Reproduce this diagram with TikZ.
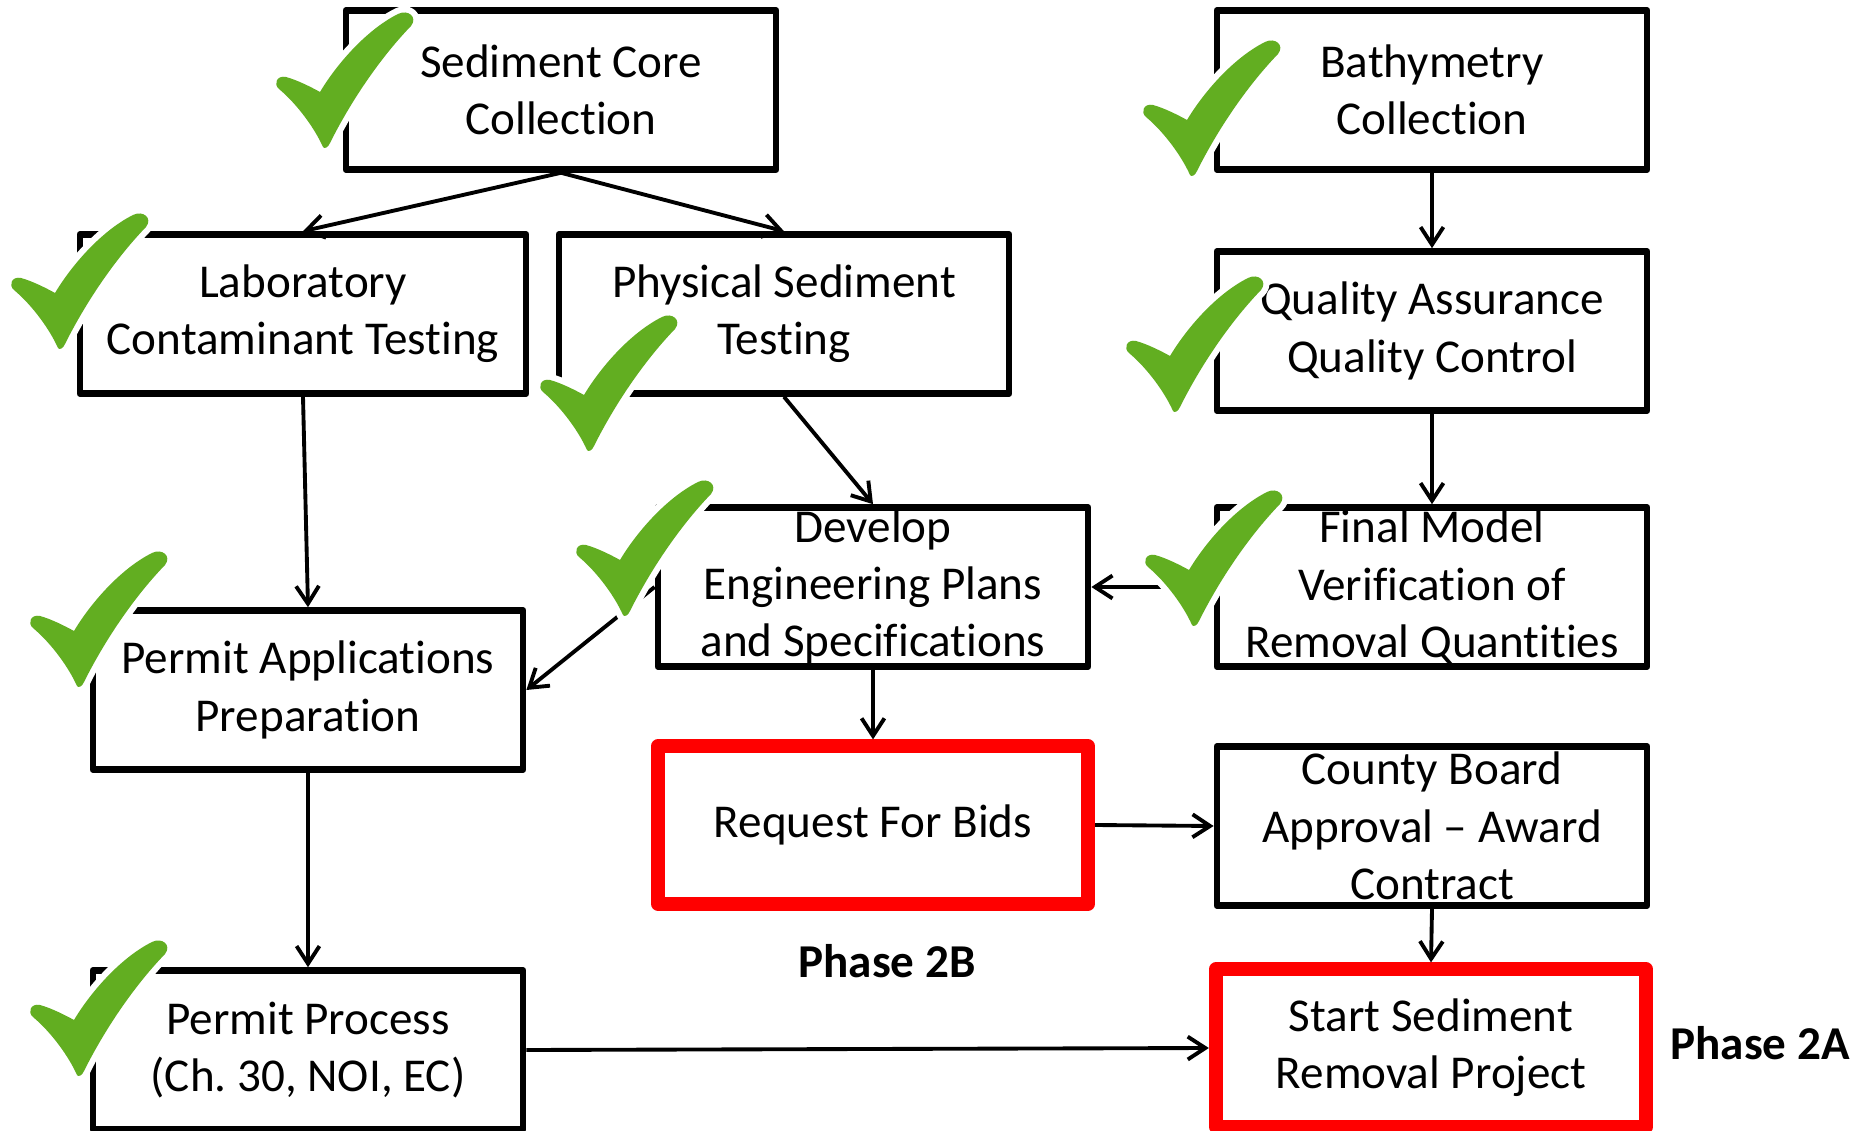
\documentclass[tikz,border=0pt]{standalone}
\usepackage{fontspec}
\setmainfont{Carlito}[Ligatures={TeX,NoCommon}]
\frenchspacing
\usepackage{tikz}
\usetikzlibrary{arrows.meta}
\definecolor{ink}{HTML}{000000}
\definecolor{alert}{HTML}{FF0000}
\definecolor{tickgreen}{HTML}{62AE21}
\tikzset{
  box/.style={draw=ink, line width=1.85pt, line join=round, fill=white, align=center, inner sep=0pt,
    minimum width=4.3cm, minimum height=1.59cm, font=\fontsize{13.4}{16.3}\selectfont},
  redbox/.style={box, draw=alert, line width=4pt, minimum height=1.57cm},
  link/.style={draw=ink, line width=1.1pt, -{Straight Barb[length=5pt,width=6.5pt]}},
  phase/.style={anchor=base, font=\fontsize{13.4}{16.3}\selectfont\bfseries},
  tick/.pic={
    \path[fill=tickgreen, preaction={draw=white, line width=3.5pt, line join=round}]
      (0,0) .. controls (-8,-18) and (-25,-42) .. (-44,-58)
      .. controls (-50,-63) and (-46,-72) .. (-37,-70)
      .. controls (-26,-67) and (-12,-60) .. (-3,-55)
      .. controls (15,-85) and (45,-118) .. (75,-133)
      .. controls (85,-138) and (95,-130) .. (88,-121)
      .. controls (60,-92) and (30,-50) .. (7,-4)
      .. controls (5,1) and (1,2) .. cycle;
  },
}

\begin{document}
\begin{tikzpicture}[x=0.01cm, y=-0.01cm]
  \useasboundingbox (0,0) rectangle (1870,1131);
  % boxes
  \node[box] (sed) at (561,90) {Sediment Core\\Collection};
  \node[box] (bathy) at (1432,90) {Bathymetry\\Collection};
  \node[box, minimum width=4.46cm] (lab) at (303,314) {Laboratory\\Contaminant Testing};
  \node[box, minimum width=4.5cm] (phys) at (784,314) {Physical Sediment\\Testing};
  \node[box] (qa) at (1432,331) {Quality Assurance\\Quality Control};
  \node[box] (dev) at (873,587) {Develop\\Engineering Plans\\and Specifications};
  \node[box] (final) at (1432,587) {Final Model\\Verification of\\Removal Quantities};
  \node[box] (papp) at (308,690) {Permit Applications\\Preparation};
  \node[redbox] (req) at (873,825) {Request For Bids};
  \node[box] (board) at (1432,826) {County Board\\Approval – Award\\Contract};
  \node[box] (pproc) at (308,1050) {Permit Process\\(Ch. 30, NOI, EC)};
  \node[redbox] (start) at (1431,1048) {Start Sediment\\Removal Project};
  \node[phase] (p2b) at (887,977) {Phase 2B};
  \node[phase] (p2a) at (1760,1059) {Phase 2A};
  % connectors
  \draw[link] (sed.south) -- (lab.north);
  \draw[link] (sed.south) -- (phys.north);
  \draw[link] (bathy.south) -- (qa.north);
  \draw[link] (qa.south) -- (final.north);
  \draw[link] (lab.south) -- (papp.north);
  \draw[link] (phys.south) -- (dev.north);
  \draw[link] (final.west) -- (dev.east);
  \draw[link] (dev.west) -- (papp.east);
  \draw[link] (dev.south) -- (req.north);
  \draw[link] (req.east) -- (board.west);
  \draw[link] (board.south) -- (start.north);
  \draw[link] (papp.south) -- (pproc.north);
  \draw[link] (pproc.east) -- (start.west);
  % done marks
  \foreach \x/\y in {323/147, 58/348, 587/450, 1190/175, 1173/411, 623/615, 1192/625, 77/686, 77/1075}
    \pic at (\x,\y) {tick};
\end{tikzpicture}
\end{document}
